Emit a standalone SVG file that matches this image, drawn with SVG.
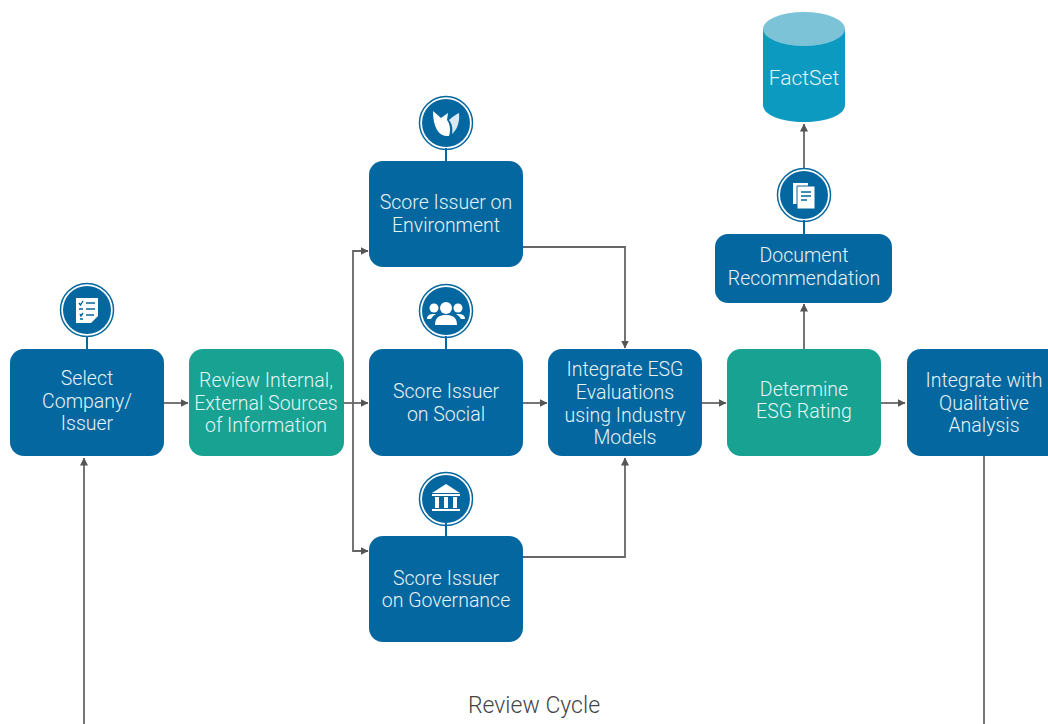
<svg xmlns="http://www.w3.org/2000/svg" width="1048" height="724" viewBox="0 0 1048 724">
<style>
.n{fill:#05679f}.g{fill:#17a291}
.t{font-family:"Roboto","Liberation Sans",sans-serif;font-size:19.5px;font-weight:300;fill:#e6f3f6;text-anchor:middle}
.c{fill:none;stroke:#666;stroke-width:1.8;marker-end:url(#a)}
.s{stroke:#05679f;stroke-width:2;fill:none}
.ring{fill:#05679f}
.o{fill:none;stroke:#05679f;stroke-width:1.5}
.i{fill:#fff}
.l{stroke:#05679f;stroke-width:1.4;fill:none}
</style>
<defs>
<marker id="a" viewBox="0 0 8 8" refX="7.5" refY="4" markerWidth="8" markerHeight="8" markerUnits="userSpaceOnUse" orient="auto"><path d="M0 0L8 4L0 8Z" fill="#555"/></marker>
</defs>
<rect width="1048" height="724" fill="#fff"/>
<g id="connectors">
<path class="c" d="M164 403H188"/>
<path class="c" d="M344 403H368"/>
<path class="c" d="M353 403V251H368"/>
<path class="c" d="M353 403V551H368"/>
<path class="c" d="M523 247H625V348"/>
<path class="c" d="M523 403H547"/>
<path class="c" d="M523 557H625V458"/>
<path class="c" d="M702 403H726"/>
<path class="c" d="M881 403H905"/>
<path class="c" d="M804 349V304"/>
<path class="c" d="M804 168V124"/>
<path class="c" d="M84 724V458"/>
<path d="M984 456V724" fill="none" stroke="#666" stroke-width="1.8"/>
</g>
<g id="factset">
<path d="M763 29V105C763 115 781 122 804 122S845 115 845 105V29Z" fill="#0d9ac0"/>
<ellipse cx="804" cy="29" rx="41" ry="17" fill="#7cc3d8"/>
<text class="t" x="804" y="85" style="font-size:21px">FactSet</text>
</g>
<g id="select">
<path class="s" d="M87 336V349"/>
<circle class="ring" cx="87" cy="310" r="24"/><circle class="o" cx="87" cy="310" r="26.5"/>
<path class="i" d="M76 298H98V316L91 323H76Z"/>
<path class="l" d="M79 303L80.500 305L83 301M86 303H95M79 309H83M86 309H95M80 314L81 316L83 313M86 315H94M80 319H83"/>
<rect class="n" x="10" y="349" width="154" height="107" rx="14"/>
<text class="t" x="87" y="385">Select</text><text class="t" x="87" y="408">Company/</text><text class="t" x="87" y="430">Issuer</text>
</g>
<g id="review">
<rect class="g" x="189" y="349" width="155" height="107" rx="14"/>
<text class="t" x="266" y="387">Review Internal,</text><text class="t" x="266" y="410">External Sources</text><text class="t" x="266" y="432">of Information</text>
</g>
<g id="environment">
<path class="s" d="M446 148V161"/>
<circle class="ring" cx="446" cy="123" r="24"/><circle class="o" cx="446" cy="123" r="26.5"/>
<path class="i" d="M433 111L441 118L448 113L447 120C450 124 451 130 449 136C439 137 433 128 433 111Z"/>
<path class="i" opacity=".85" d="M449 120C452 117 455 115 459 113C460 122 457 130 452 134C453 128 452 124 449 120Z"/>
<rect class="n" x="369" y="161" width="154" height="106" rx="14"/>
<text class="t" x="446" y="209">Score Issuer on</text><text class="t" x="446" y="232">Environment</text>
</g>
<g id="social">
<path class="s" d="M446 336V349"/>
<circle class="ring" cx="446" cy="311" r="24"/><circle class="o" cx="446" cy="311" r="26.5"/>
<g class="i"><circle cx="446" cy="308" r="6"/><circle cx="434" cy="308" r="4.500"/><circle cx="458" cy="308" r="4.500"/>
<path d="M435 325C435 317 440 315 446 315S457 317 457 325Z"/><path d="M427 319C427 315 430 314 434 314L436 314C433 316 432 317 431 319Z"/><path d="M465 319C465 315 462 314 458 314L456 314C459 316 460 317 461 319Z"/></g>
<rect class="n" x="369" y="349" width="154" height="107" rx="14"/>
<text class="t" x="446" y="398">Score Issuer</text><text class="t" x="446" y="421">on Social</text>
</g>
<g id="governance">
<path class="s" d="M446 523V536"/>
<circle class="ring" cx="446" cy="499" r="24"/><circle class="o" cx="446" cy="499" r="26.5"/>
<g class="i"><path d="M446 484L460 493H432Z"/><rect x="432" y="494" width="28" height="2"/><rect x="435" y="497" width="4" height="11"/><rect x="444" y="497" width="4" height="11"/><rect x="453" y="497" width="4" height="11"/><rect x="432" y="509" width="28" height="2"/></g>
<rect class="n" x="369" y="536" width="154" height="106" rx="14"/>
<text class="t" x="446" y="585">Score Issuer</text><text class="t" x="446" y="607">on Governance</text>
</g>
<g id="integrate-esg">
<rect class="n" x="548" y="349" width="154" height="107" rx="14"/>
<text class="t" x="625" y="376">Integrate ESG</text><text class="t" x="625" y="399">Evaluations</text><text class="t" x="625" y="422">using Industry</text><text class="t" x="625" y="444">Models</text>
</g>
<g id="determine">
<rect class="g" x="727" y="349" width="154" height="107" rx="14"/>
<text class="t" x="804" y="396">Determine</text><text class="t" x="804" y="418">ESG Rating</text>
</g>
<g id="document">
<path class="s" d="M804 220V234"/>
<circle class="ring" cx="804" cy="195" r="24"/><circle class="o" cx="804" cy="195" r="26.5"/>
<path class="i" d="M793 183H808V204H793Z"/><path class="i" stroke="#05679f" d="M797 186H815V209H797Z"/>
<path class="l" d="M801 192H811M801 196H811M801 200H807"/>
<rect class="n" x="715" y="234" width="177" height="69" rx="13"/>
<text class="t" x="804" y="262">Document</text><text class="t" x="804" y="285">Recommendation</text>
</g>
<g id="integrate-qual">
<path class="n" d="M921 349H1048V456H921A14 14 0 0 1 907 442V363A14 14 0 0 1 921 349Z"/>
<text class="t" x="984" y="387">Integrate with</text><text class="t" x="984" y="410">Qualitative</text><text class="t" x="984" y="432">Analysis</text>
</g>
<text id="review-cycle" x="534" y="713" text-anchor="middle" style="font-family:Roboto,'Liberation Sans',sans-serif;font-size:23px;font-weight:300;fill:#444">Review Cycle</text>
</svg>
